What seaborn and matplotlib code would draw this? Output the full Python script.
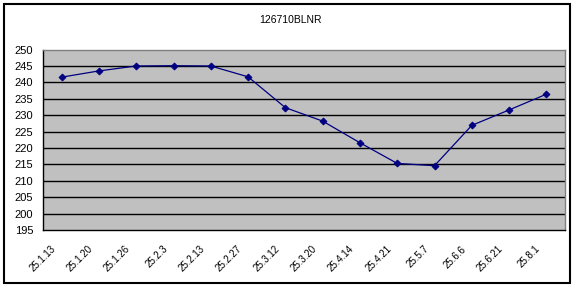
import matplotlib
matplotlib.use("Agg")
import matplotlib.pyplot as plt
import matplotlib.transforms as mtransforms
from matplotlib.patches import Rectangle
import seaborn as sns
import numpy as np

title = "126710BLNR"
dates = ["25.1.13", "25.1.20", "25.1.26", "25.2.3", "25.2.13", "25.2.27", "25.3.12",
         "25.3.20", "25.4.14", "25.4.21", "25.5.7", "25.6.6", "25.6.21", "25.8.1"]
values = [241.6, 243.5, 245.0, 245.1, 245.0, 241.7, 232.3,
          228.2, 221.6, 215.3, 214.6, 226.9, 231.6, 236.4]
y_ticks = list(range(195, 251, 5))

sns.set_style("white")
plt.rcParams["font.family"] = ["Liberation Sans", "DejaVu Sans"]
plt.rcParams["text.color"] = "black"
plt.rcParams["xtick.color"] = "black"
plt.rcParams["ytick.color"] = "black"

fig = plt.figure(figsize=(5.78, 2.88), dpi=100)
W, H = 578, 288
ax = fig.add_axes([43 / W, (H - 230) / H, (565 - 43) / W, (230 - 49.6) / H])
ax.set_facecolor("#C0C0C0")

sns.pointplot(x=dates, y=values, ax=ax, color="#000080", markers="D",
              markersize=3.5, linewidth=0.9, errorbar=None)

ax.set_xlim(-0.5, len(dates) - 0.5)
ax.set_ylim(195, 250)
ax.set_yticks(y_ticks)
ax.set_yticklabels([str(v) for v in y_ticks], fontsize=8)
for yv in y_ticks[1:-1]:
    ax.axhline(yv, color="black", linewidth=1, zorder=0.5)

ax.set_xticks(range(len(dates)))
ax.set_xticklabels(dates, fontsize=7, rotation=45, ha="right", va="top")
ax.set_xticks(np.arange(-0.5, len(dates), 1.0), minor=True)
ax.tick_params(axis="x", which="major", length=0, pad=10)
ax.tick_params(axis="x", which="minor", length=3, direction="out", color="black", width=0.8)
ax.tick_params(axis="y", length=0, pad=7)
offset = mtransforms.ScaledTranslation(-4 / 100, 0, fig.dpi_scale_trans)
for lbl in ax.get_xticklabels():
    lbl.set_transform(lbl.get_transform() + offset)

ax.set_xlabel("")
ax.set_ylabel("")
for side in ["left", "bottom"]:
    ax.spines[side].set_color("black")
    ax.spines[side].set_linewidth(1)
for side in ["top", "right"]:
    ax.spines[side].set_color("#808080")
    ax.spines[side].set_linewidth(1)

fig.text(290 / W, 1 - 20 / H, title, ha="center", va="center", fontsize=7.5, color="black")
fig.patches.append(Rectangle((4 / W, 5 / H), 566 / W, 279 / H, transform=fig.transFigure,
                             fill=False, edgecolor="black", linewidth=1.5))

fig.savefig("out.png", dpi=100)
